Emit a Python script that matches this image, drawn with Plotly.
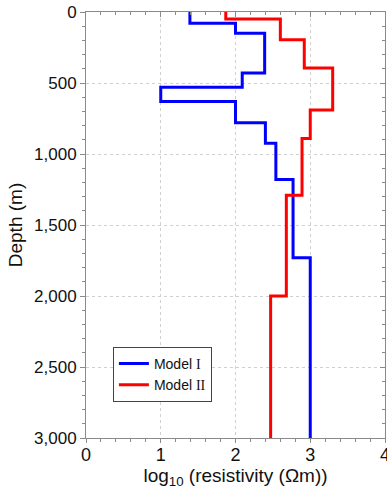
import plotly.graph_objects as go

# Model I: layer top depths (m) and log10 resistivity
model1_tops = [0, 80, 150, 430, 530, 630, 780, 925, 1180, 1730]
model1_res = [1.39, 2.0, 2.39, 2.09, 1.0, 2.0, 2.4, 2.54, 2.77, 3.0]

# Model II
model2_tops = [0, 50, 195, 395, 690, 890, 1290, 2000]
model2_res = [1.87, 2.6, 2.92, 3.3, 3.0, 2.89, 2.68, 2.47]

max_depth = 3000
x_ticks = [0, 1, 2, 3, 4]
y_ticks = [0, 500, 1000, 1500, 2000, 2500, 3000]

FONT = "Liberation Sans, Arial, sans-serif"
AX = "#8a8a8a"

fig = go.Figure()
fig.add_trace(go.Scatter(
    x=model1_res + [model1_res[-1]], y=model1_tops + [max_depth],
    mode="lines", line=dict(color="#0000ff", width=3, shape="vh"),
    name="Model <span style=\"font-family:'Liberation Serif', serif\">I</span>"))
fig.add_trace(go.Scatter(
    x=model2_res + [model2_res[-1]], y=model2_tops + [max_depth],
    mode="lines", line=dict(color="#ff0000", width=3, shape="vh"),
    name="Model <span style=\"font-family:'Liberation Serif', serif\">II</span>"))
# invisible trace to anchor the mirrored axes
fig.add_trace(go.Scatter(x=[0], y=[0], xaxis="x2", yaxis="y2", mode="markers",
                         marker=dict(opacity=0), showlegend=False, hoverinfo="skip"))

fig.update_layout(
    width=387, height=490,
    margin=dict(l=86, r=2, t=12, b=52, autoexpand=False),
    paper_bgcolor="white", plot_bgcolor="white",
    font=dict(family=FONT, color="#111"),
    showlegend=True,
    legend=dict(x=0.09, y=0.214, xanchor="left", yanchor="top",
                bgcolor="white", bordercolor="#444", borderwidth=1,
                font=dict(size=14, family=FONT), itemwidth=30,
                tracegroupgap=0),
    xaxis=dict(range=[0, 4], tickvals=x_ticks, ticks="outside", ticklen=4,
               tickcolor=AX, linecolor=AX, showline=True, linewidth=1,
               showgrid=True, gridcolor="#d0d0d0", griddash="dot", gridwidth=1,
               zeroline=False, tickfont=dict(size=18), ticklabelstandoff=-4,
               minor=dict(dtick=0.2, ticks="outside", ticklen=3, tickcolor=AX, showgrid=False),
               title=dict(text="log<sub>10</sub> (resistivity (Ωm))", font=dict(size=19), standoff=4)),
    yaxis=dict(range=[max_depth, 0], tickvals=y_ticks, tickformat=",d", ticks="outside", ticklen=5,
               tickcolor=AX, linecolor=AX, showline=True, linewidth=1,
               showgrid=True, gridcolor="#d0d0d0", griddash="dot", gridwidth=1,
               zeroline=False, tickfont=dict(size=17),
               minor=dict(dtick=100, ticks="outside", ticklen=3, tickcolor=AX, showgrid=False),
               title=dict(text="Depth (m)", font=dict(size=19), standoff=6)),
    xaxis2=dict(range=[0, 4], overlaying="x", side="top", anchor="y", tickvals=x_ticks,
                ticks="inside", ticklen=5, tickcolor=AX, linecolor=AX, showline=True,
                showticklabels=False, showgrid=False, zeroline=False,
                minor=dict(dtick=0.2, ticks="inside", ticklen=3, tickcolor=AX)),
    yaxis2=dict(range=[max_depth, 0], overlaying="y", side="right", anchor="x", tickvals=y_ticks,
                ticks="inside", ticklen=5, tickcolor=AX, linecolor=AX, showline=True,
                showticklabels=False, showgrid=False, zeroline=False,
                minor=dict(dtick=100, ticks="inside", ticklen=3, tickcolor=AX)),
)

# the last x tick label, which sits half outside the figure edge in the reference
fig.add_annotation(x=x_ticks[-1], y=0, xref="x", yref="paper", yanchor="top",
                   text=str(x_ticks[-1]), showarrow=False, font=dict(size=18), yshift=-5)

fig.write_html("out.html", config={"displayModeBar": False},
               post_script="document.body.style.margin='0';document.body.style.padding='0';")
